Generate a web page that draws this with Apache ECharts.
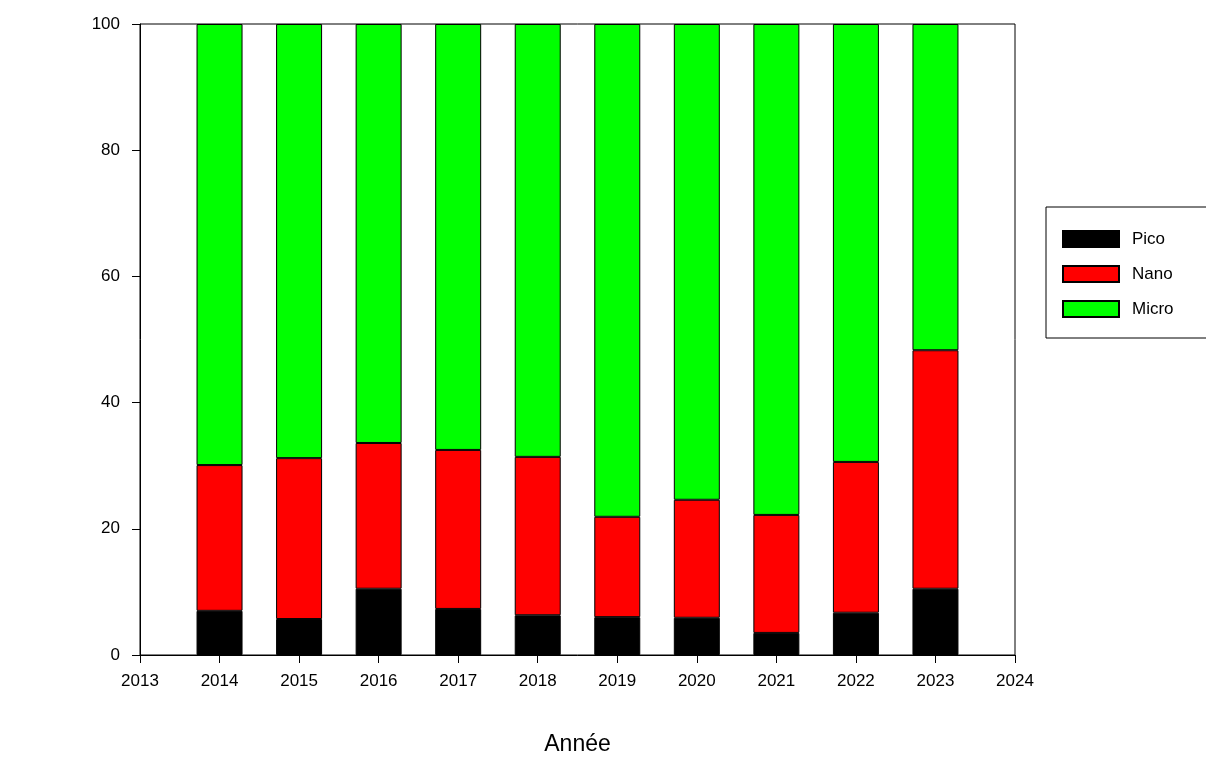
<html>
<head>
<meta charset="utf-8">
<script src="https://cdn.jsdelivr.net/npm/echarts@6/dist/echarts.min.js"></script>
</head>
<body style="margin:0">
<div id="main" style="width:1206px;height:758px"></div>
<script>
var years = ['2013','2014','2015','2016','2017','2018','2019','2020','2021','2022','2023','2024'];
var pico  = [null, 7.0, 5.7, 10.5, 7.3, 6.3, 6.0, 5.9, 3.5, 6.7, 10.5, null];
var total = [null, 30.1, 31.2, 33.6, 32.5, 31.4, 21.9, 24.6, 22.2, 30.6, 48.3, null];
var nano = total.map(function (t, i) { return t == null ? null : +(t - pico[i]).toFixed(1); });
var micro = total.map(function (t) { return t == null ? null : +(100 - t).toFixed(1); });

var chart = echarts.init(document.getElementById('main'));
var font = 'Liberation Sans, Arial, sans-serif';
function bar(name, data, color) {
  return { name: name, type: 'bar', stack: 'a', data: data, barWidth: 46,
    itemStyle: { color: color, borderColor: '#000', borderWidth: 1 } };
}
chart.setOption({
  animation: false,
  grid: { left: 140, right: 191, top: 24, bottom: 103, outerBoundsMode: 'none',
    show: true, borderColor: '#000', borderWidth: 1 },
  legend: {
    orient: 'vertical', left: 1046, top: 207,
    padding: [23, 60, 20, 16], itemGap: 17, itemWidth: 56, itemHeight: 16,
    borderColor: '#000', borderWidth: 1, icon: 'rect',
    textStyle: { fontFamily: font, fontSize: 17, color: '#000', padding: [0, 0, 0, 8] },
    data: ['Pico', 'Nano', 'Micro']
  },
  xAxis: {
    type: 'category', data: years, boundaryGap: false,
    name: 'Année', nameLocation: 'middle', nameGap: 78,
    nameTextStyle: { fontFamily: font, fontSize: 23, color: '#000' },
    axisLine: { lineStyle: { color: '#000' } },
    axisTick: { show: true, length: 8, lineStyle: { color: '#000' } },
    axisLabel: { fontFamily: font, fontSize: 17, color: '#000', margin: 18 },
    splitLine: { show: false }
  },
  yAxis: {
    type: 'value', min: 0, max: 100, interval: 20,
    axisLine: { show: true, lineStyle: { color: '#000' } },
    axisTick: { show: true, length: 8, lineStyle: { color: '#000' } },
    axisLabel: { fontFamily: font, fontSize: 17, color: '#000', margin: 20 },
    splitLine: { show: false }
  },
  series: [bar('Pico', pico, '#000000'), bar('Nano', nano, '#ff0000'), bar('Micro', micro, '#00ff00')]
});
</script>
</body>
</html>
